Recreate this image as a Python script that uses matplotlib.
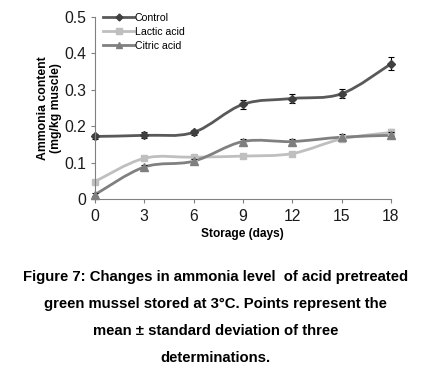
import matplotlib.pyplot as plt
from matplotlib.path import Path
from matplotlib.patches import PathPatch

days = [0, 3, 6, 9, 12, 15, 18]
control = [0.172, 0.175, 0.183, 0.260, 0.276, 0.289, 0.371]
control_err = [0.008, 0.008, 0.008, 0.013, 0.012, 0.012, 0.018]
lactic = [0.048, 0.112, 0.115, 0.118, 0.125, 0.165, 0.183]
lactic_err = [0.004, 0.005, 0.005, 0.005, 0.005, 0.006, 0.010]
citric = [0.012, 0.088, 0.104, 0.158, 0.158, 0.170, 0.175]
citric_err = [0.004, 0.006, 0.006, 0.008, 0.008, 0.008, 0.008]

plt.rcParams['font.family'] = ['Liberation Sans', 'DejaVu Sans']


def smooth_path(xs, ys):
    # bezier through the points, like excel "smoothed line"
    pts = list(zip(xs, ys))
    verts = [pts[0]]
    codes = [Path.MOVETO]
    n = len(pts)
    for i in range(n - 1):
        p0 = pts[i - 1] if i > 0 else pts[i]
        p1 = pts[i]
        p2 = pts[i + 1]
        p3 = pts[i + 2] if i + 2 < n else pts[i + 1]
        c1 = (p1[0] + (p2[0] - p0[0]) / 6, p1[1] + (p2[1] - p0[1]) / 6)
        c2 = (p2[0] - (p3[0] - p1[0]) / 6, p2[1] - (p3[1] - p1[1]) / 6)
        verts += [c1, c2, p2]
        codes += [Path.CURVE4] * 3
    return Path(verts, codes)


fig = plt.figure(figsize=(4.31, 3.75), dpi=100)
ax = fig.add_axes([0.220, 0.469, 0.687, 0.486])

series = [
    ('Control', control, control_err, '#595959', '#404040', 'D', 4.5),
    ('Lactic acid', lactic, lactic_err, '#bfbfbf', '#bfbfbf', 's', 5),
    ('Citric acid', citric, citric_err, '#808080', '#7f7f7f', '^', 5.5),
]
for name, vals, err, lc, mc, mk, ms in series:
    ax.add_patch(PathPatch(smooth_path(days, vals), facecolor='none',
                           edgecolor=lc, lw=2, clip_on=False))
    ax.errorbar(days, vals, yerr=err, fmt='none', ecolor='black',
                elinewidth=0.8, capsize=2.5, capthick=0.8, clip_on=False)
    ax.plot(days, vals, ls='none', marker=mk, ms=ms, color=mc, clip_on=False)
    ax.plot([], [], color=lc, lw=2, marker=mk, ms=ms - 1, mfc=mc, mec=mc,
            label=name)

ax.set_xlim(0, 18)
ax.set_ylim(0, 0.5)
ax.set_xticks(days)
ax.set_yticks([0, 0.1, 0.2, 0.3, 0.4, 0.5])
ax.set_yticklabels(['0', '0.1', '0.2', '0.3', '0.4', '0.5'])
ax.tick_params(labelsize=11.3, length=3, width=0.8, color='#808080',
               labelcolor='#1a1a1a')
ax.tick_params(axis='y', pad=3)
ax.tick_params(axis='x', pad=4)
for s in ['top', 'right']:
    ax.spines[s].set_visible(False)
for s in ['left', 'bottom']:
    ax.spines[s].set_color('#808080')
    ax.spines[s].set_linewidth(0.8)

ax.set_xlabel('Storage (days)', fontsize=8.6, fontweight='bold', labelpad=3)
ax.set_ylabel('Ammonia content\n(mg/kg muscle)', fontsize=8.8,
              fontweight='bold', labelpad=2, linespacing=1.05)

ax.legend(loc='upper left', bbox_to_anchor=(0.015, 1.045), frameon=False,
          fontsize=7.6, handlelength=2.9, handletextpad=0.05,
          labelspacing=0.38, borderaxespad=0)

caption = ['Figure 7: Changes in ammonia level  of acid pretreated',
           'green mussel stored at 3\u00b0C. Points represent the',
           'mean \u00b1 standard deviation of three',
           'determinations.']
for i, line in enumerate(caption):
    fig.text(0.5, 1 - (277 + i * 27) / 375, line, ha='center', va='center',
             fontsize=10.7, fontweight='bold')

fig.savefig('out.png', dpi=100)
